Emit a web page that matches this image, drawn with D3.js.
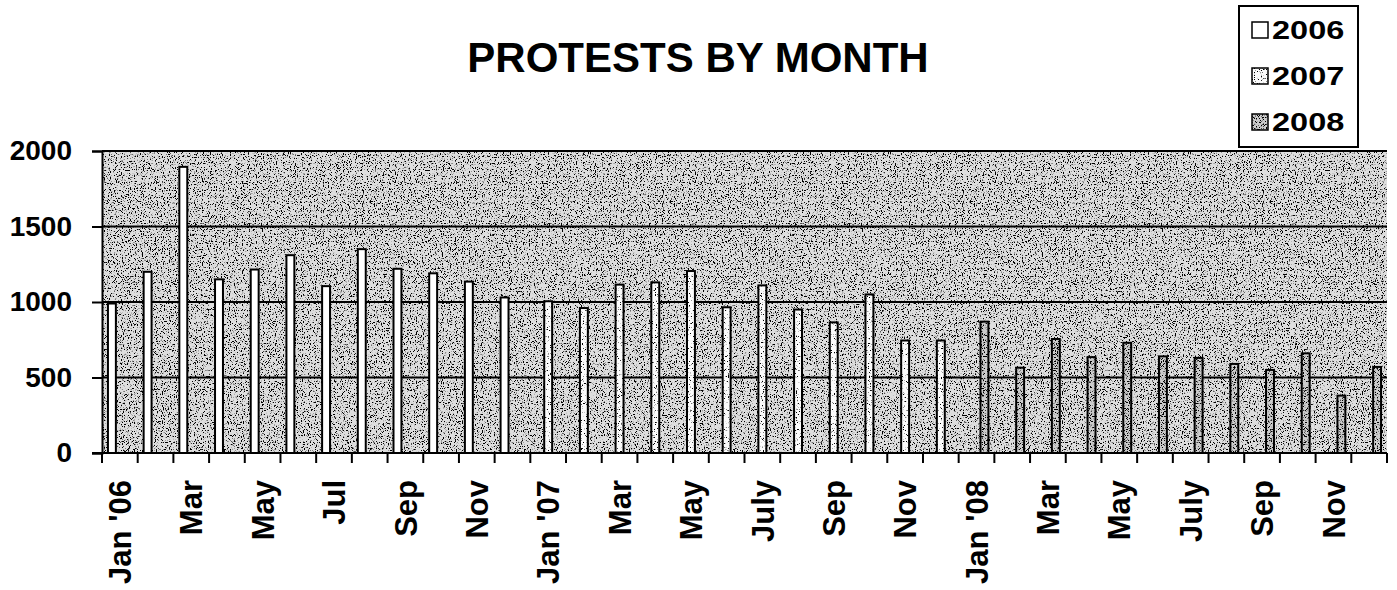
<!DOCTYPE html>
<html>
<head>
<meta charset="utf-8">
<script src="https://cdn.jsdelivr.net/npm/d3@7"></script>
<style>
  html, body { margin: 0; padding: 0; background: #fff; }
  svg { display: block; font-family: Arial, "Liberation Sans", sans-serif; }
</style>
</head>
<body>
<svg id="chart" width="1397" height="590"></svg>
<script>
// data
const years = ["2006", "2007", "2008"];
const months = [
  "2006-01","2006-02","2006-03","2006-04","2006-05","2006-06","2006-07","2006-08","2006-09","2006-10","2006-11","2006-12",
  "2007-01","2007-02","2007-03","2007-04","2007-05","2007-06","2007-07","2007-08","2007-09","2007-10","2007-11","2007-12",
  "2008-01","2008-02","2008-03","2008-04","2008-05","2008-06","2008-07","2008-08","2008-09","2008-10","2008-11","2008-12"
];
const tickLabels = [
  "Jan '06","Mar","May","Jul","Sep","Nov",
  "Jan '07","Mar","May","July","Sep","Nov",
  "Jan '08","Mar","May","July","Sep","Nov"
];
const values2006 = [990, 1200, 1895, 1150, 1215, 1310, 1105, 1350, 1220, 1190, 1135, 1030];
const values2007 = [1005, 960, 1115, 1130, 1205, 965, 1110, 950, 865, 1050, 745, 745];
const values2008 = [870, 565, 755, 635, 730, 640, 630, 590, 550, 660, 380, 570];
const yTicks = [0, 500, 1000, 1500, 2000];

const seriesValues = { "2006": values2006, "2007": values2007, "2008": values2008 };
const bars = months.map((m, i) => {
  const year = m.slice(0, 4);
  return { month: m, year, value: seriesValues[year][i % 12] };
});

const svg = d3.select("#chart");
const plot = { left: 102, right: 1387, top: 151, bottom: 453 };

// stipple textures
const defs = svg.append("defs");
const makeTexture = (id, base, k, b, seed) => {
  const f = defs.append("filter").attr("id", id + "-f")
    .attr("x", 0).attr("y", 0).attr("width", 1).attr("height", 1);
  f.append("feFlood").attr("flood-color", base).attr("result", "bg");
  f.append("feTurbulence").attr("type", "fractalNoise")
    .attr("baseFrequency", 0.85).attr("numOctaves", 2).attr("seed", seed).attr("result", "n");
  f.append("feColorMatrix").attr("in", "n").attr("type", "matrix")
    .attr("values", `0 0 0 0 0  0 0 0 0 0  0 0 0 0 0  ${-k} 0 0 0 ${b}`).attr("result", "dots");
  const merge = f.append("feMerge");
  merge.append("feMergeNode").attr("in", "bg");
  merge.append("feMergeNode").attr("in", "dots");
  const p = defs.append("pattern").attr("id", id)
    .attr("patternUnits", "userSpaceOnUse").attr("width", 300).attr("height", 300);
  p.append("rect").attr("width", 300).attr("height", 300).attr("fill", base).attr("filter", `url(#${id}-f)`);
};
makeTexture("texBg", "#dedede", 10, 4.5, 3);
makeTexture("tex2008", "#cccccc", 10, 4.7, 7);
makeTexture("tex2007", "#fbfbfb", 10, 3.9, 11);

const fills = { "2006": "#ffffff", "2007": "url(#tex2007)", "2008": "url(#tex2008)" };

const x0 = d3.scaleBand().domain(months).range([plot.left, plot.right]).padding(0);
const x1 = d3.scaleBand().domain(years).range([0, x0.bandwidth()]).paddingInner(0).paddingOuter(0.75);
const y = d3.scaleLinear().domain([0, 2000]).range([plot.bottom, plot.top]);

// plot background
svg.append("rect")
  .attr("x", plot.left).attr("y", y(2000))
  .attr("width", plot.right - plot.left).attr("height", y(0) - y(2000))
  .attr("fill", "url(#texBg)");

// gridlines
svg.append("g").selectAll("line")
  .data(yTicks.filter(d => d > 0))
  .join("line")
  .attr("x1", plot.left).attr("x2", plot.right)
  .attr("y1", d => y(d)).attr("y2", d => y(d))
  .attr("stroke", "#000").attr("stroke-width", 2);

// bars
svg.append("g").selectAll("rect")
  .data(bars)
  .join("rect")
  .attr("x", d => x0(d.month) + x1(d.year))
  .attr("y", d => y(d.value))
  .attr("width", x1.bandwidth())
  .attr("height", d => y(0) - y(d.value))
  .attr("fill", d => fills[d.year])
  .attr("stroke", "#000")
  .attr("stroke-width", 2);

// y axis
const yAxis = svg.append("g")
  .attr("transform", `translate(${plot.left},0)`)
  .call(d3.axisLeft(y).tickValues(yTicks).tickSize(10).tickPadding(20).tickFormat(d3.format("d")));
yAxis.select(".domain").attr("stroke-width", 2);
yAxis.selectAll(".tick line").attr("stroke-width", 2);
yAxis.selectAll(".tick text")
  .attr("font-size", 28).attr("font-weight", "bold")
  .attr("font-family", "Arial, 'Liberation Sans', sans-serif")
  .attr("fill", "#000");

// x axis: labels at every second month, ticks between months
const xAxis = svg.append("g")
  .attr("transform", `translate(0,${plot.bottom})`)
  .call(d3.axisBottom(x0).tickSize(0).tickSizeOuter(0)
    .tickFormat((d, i) => i % 2 === 0 ? tickLabels[i / 2] : ""));
xAxis.select(".domain").remove();
xAxis.selectAll(".tick text")
  .attr("transform", "rotate(-90)")
  .attr("x", -27).attr("y", 0).attr("dy", "0.36em")
  .attr("text-anchor", "end")
  .attr("font-size", 31).attr("font-weight", "bold")
  .attr("font-family", "Arial, 'Liberation Sans', sans-serif")
  .attr("fill", "#000");

const bounds = months.map(m => x0(m)).concat([x0(months[months.length - 1]) + x0.bandwidth()]);
xAxis.append("g").selectAll("line")
  .data(bounds)
  .join("line")
  .attr("x1", d => d).attr("x2", d => d)
  .attr("y1", 0).attr("y2", 10)
  .attr("stroke", "#000").attr("stroke-width", 2);
xAxis.append("line")
  .attr("x1", plot.left - 10).attr("x2", plot.right)
  .attr("stroke", "#000").attr("stroke-width", 2);

// title
svg.append("text")
  .attr("x", 698).attr("y", 72)
  .attr("text-anchor", "middle")
  .attr("font-size", 42).attr("font-weight", "bold")
  .text("PROTESTS BY MONTH");

// legend
const legend = svg.append("g").attr("transform", "translate(1239,6)");
legend.append("rect")
  .attr("width", 119).attr("height", 141)
  .attr("fill", "#fff").attr("stroke", "#000").attr("stroke-width", 2);
const row = legend.selectAll(".row")
  .data(years)
  .join("g")
  .attr("class", "row")
  .attr("transform", (d, i) => `translate(13,${16 + i * 46})`);
row.append("rect")
  .attr("width", 16).attr("height", 16)
  .attr("fill", d => fills[d]).attr("stroke", "#000").attr("stroke-width", 1.5);
row.append("text")
  .attr("transform", "translate(20,17) scale(1.25,1)")
  .attr("font-size", 26).attr("font-weight", "bold")
  .text(d => d);
</script>
</body>
</html>
